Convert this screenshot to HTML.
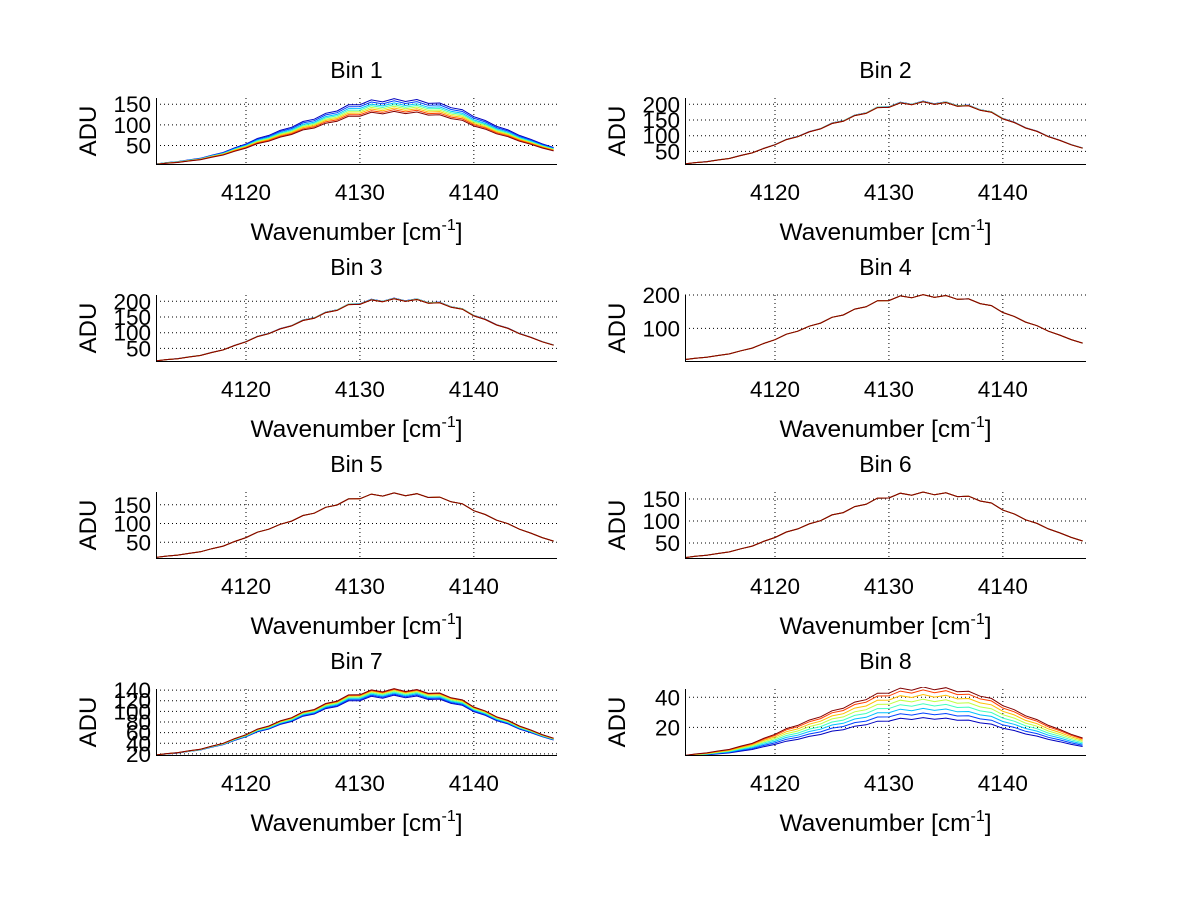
<!DOCTYPE html>
<html><head><meta charset="utf-8"><style>
html,body{margin:0;padding:0;background:#fff;}
svg{display:block;font-family:"Liberation Sans",Arial,sans-serif;}
</style></head><body>
<svg id="fig" width="1200" height="901" viewBox="0 0 1200 901"></svg>
<script>
// Shared wavenumber samples and normalized spectral profile
const wavenumbers = [4112,4113,4114,4115,4116,4117,4118,4119,4120,4121,4122,4123,4124,4125,4126,4127,4128,4129,4130,4131,4132,4133,4134,4135,4136,4137,4138,4139,4140,4141,4142,4143,4144,4145,4146,4147];
const profile = [0.03,0.05,0.07,0.09,0.12,0.16,0.21,0.27,0.34,0.41,0.47,0.53,0.60,0.66,0.72,0.78,0.85,0.91,0.95,0.98,0.99,1.0,1.0,0.99,0.97,0.94,0.90,0.84,0.76,0.68,0.61,0.54,0.47,0.40,0.34,0.28];
const jitter = [0,0.002,-0.003,0.004,-0.002,0.005,-0.004,0.006,-0.005,0.008,-0.006,0.01,-0.012,0.015,-0.01,0.02,-0.015,0.018,-0.02,0.022,-0.018,0.02,-0.022,0.018,-0.02,0.016,-0.015,0.014,-0.012,0.01,-0.008,0.008,-0.006,0.005,-0.004,0.002];
const xTicks = [4120,4130,4140];
const titles = ["Bin 1","Bin 2","Bin 3","Bin 4","Bin 5","Bin 6","Bin 7","Bin 8"];
const yRanges = [[5,165],[10,220],[10,220],[2,200],[8,184],[16,166],[18,142],[1.7,45.5]];
const yTicks = [[50,100,150],[50,100,150,200],[50,100,150,200],[100,200],[50,100,150],[50,100,150],[20,40,60,80,100,120,140],[20,40]];
// Per-bin baseline offset (ADU) under the profile
const baselines = [0,4,4,0,4,12,14,0];
// Series peak values per bin (blue -> red order of jet colormap)
const peaks1 = [160,155,150,146,142,138,134,130];
const peaks2 = [206,206,205,205,205,204,204,204];
const peaks3 = [206,206,205,205,205,204,204,204];
const peaks4 = [197,197,197,197,197,197,197,197];
const peaks5 = [178,178,178,178,178,178,178,178];
const peaks6 = [163,163,163,163,163,163,163,163];
const peaks7 = [128,130,132,134,136,138,139,140];
const peaks8 = [26,29,32,35,38,41,44,46];
const allPeaks = [peaks1,peaks2,peaks3,peaks4,peaks5,peaks6,peaks7,peaks8];
const colors = ["#0000bf","#0040ff","#00bfff","#40ffbf","#bfff40","#ffbf00","#ff4000","#800000"];

const NS="http://www.w3.org/2000/svg";
const svg=document.getElementById('fig');
function mk(tag,attrs,parent){const e=document.createElementNS(NS,tag);for(const k in attrs)e.setAttribute(k,attrs[k]);(parent||svg).appendChild(e);return e;}
const defs=mk('defs',{});
const xmin=4112.1,xmax=4147.3;
for(let i=0;i<8;i++){
  const col=i%2,row=Math.floor(i/2);
  const L=156+col*529,R=557+col*529,T=98+row*197,B=164+row*197;
  const cp=mk('clipPath',{id:'clip'+i},defs);
  mk('rect',{x:L,y:T-2,width:R-L,height:B-T+2},cp);
  const g=mk('g',{});
  
  
  const sx=v=>L+(v-xmin)/(xmax-xmin)*(R-L);
  const [y0,y1]=yRanges[i];
  const sy=v=>B-(v-y0)/(y1-y0)*(B-T);
  xTicks.forEach(t=>{const l=mk('line',{x1:sx(t),x2:sx(t),y1:T,y2:B,stroke:'#000','stroke-width':1,'stroke-dasharray':'1,3'},g);
    });
  yTicks[i].forEach(t=>{const l=mk('line',{x1:L,x2:R,y1:sy(t),y2:sy(t),stroke:'#000','stroke-width':1,'stroke-dasharray':'1,3'},g);
    });
  const sg=mk('g',{'clip-path':'url(#clip'+i+')'},g);
  
  
  const b=baselines[i];
  allPeaks[i].forEach((p,s)=>{
    const pts=wavenumbers.map((w,k)=>sx(w).toFixed(1)+','+sy(b+(p-b)*(profile[k]+jitter[k])).toFixed(1)).join(' ');
    const pl=mk('polyline',{points:pts,fill:'none',stroke:colors[s],'stroke-width':1},sg);
    
    
  });
  const ax=mk('path',{d:`M${L+.5},${T} V${B+.5} H${R}`,fill:'none',stroke:'#000','stroke-width':1},g);
  
  xTicks.forEach(t=>{const tx=mk('text',{x:sx(t),y:B+36,'font-size':22.5,'text-anchor':'middle'},g);tx.textContent=t;
    });
  yTicks[i].forEach(t=>{const tx=mk('text',{x:L-5,y:sy(t)+8,'font-size':22.5,'text-anchor':'end'},g);tx.textContent=t;
    });
  const title=mk('text',{x:(L+R)/2,y:T-20,'font-size':23,'text-anchor':'middle'},g);title.textContent=titles[i];
  
  const yl=mk('text',{x:0,y:0,'font-size':24,'text-anchor':'middle',transform:`translate(${L-60},${(T+B)/2}) rotate(-90)`},g);yl.textContent='ADU';
  
  const xl=mk('text',{x:(L+R)/2,y:B+76,'font-size':24.5,'text-anchor':'middle'},g);
  
  xl.appendChild(document.createTextNode('Wavenumber [cm'));
  const sup=mk('tspan',{dy:-10,'font-size':16},xl);sup.textContent='-1';
  const cl=mk('tspan',{dy:10},xl);cl.textContent=']';
}
</script>
</body></html>
